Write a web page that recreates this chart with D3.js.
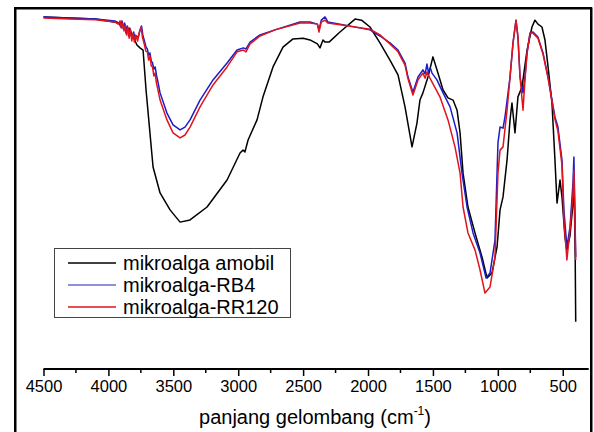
<!DOCTYPE html>
<html>
<head>
<meta charset="utf-8">
<script src="https://cdn.jsdelivr.net/npm/d3@7"></script>
<style>
  body { margin: 0; background: #fff; }
  #chart { position: relative; width: 594px; height: 432px; overflow: hidden; }
  #frame { position: absolute; left: 14px; top: 7px; width: 574px; height: 440px;
           border: 2px solid #000; border-bottom: none; pointer-events: none; }
  svg { display: block; font-family: "Liberation Sans", Arial, sans-serif; }
</style>
</head>
<body>
<div id="chart"><div id="frame"></div></div>
<script>
// FTIR spectra, [wavenumber cm-1, transmittance (arb. %T)]
const amobil = [
  [4500, 97.8], [4300, 97.5], [4100, 97.2], [3911, 96.1], [3834, 94.2], [3780, 90.0],
  [3757, 89.2], [3733, 88.6], [3710, 77.5], [3680, 65.6], [3656, 56.1], [3602, 48.9],
  [3525, 44.2], [3448, 40.8], [3371, 41.4], [3240, 45.0], [3086, 52.5], [2986, 60.0],
  [2963, 60.8], [2948, 60.3], [2924, 63.6], [2855, 69.2], [2809, 75.6], [2732, 83.9],
  [2655, 89.4], [2578, 91.7], [2500, 91.9], [2447, 91.4], [2390, 90.3], [2370, 89.2],
  [2347, 91.4], [2331, 90.8], [2300, 90.8], [2216, 93.6], [2100, 97.2], [2050, 96.9],
  [1985, 95.0], [1908, 90.6], [1831, 85.8], [1769, 81.7], [1715, 72.8], [1661, 61.7],
  [1623, 68.3], [1600, 74.7], [1577, 76.7], [1538, 81.1], [1500, 86.7], [1469, 83.1],
  [1422, 77.5], [1384, 75.3], [1345, 74.7], [1314, 71.9], [1291, 65.6], [1268, 54.4],
  [1230, 45.0], [1176, 37.8], [1122, 31.1], [1083, 25.3], [1045, 26.7], [1006, 33.9],
  [983, 44.2], [960, 47.8], [929, 58.1], [906, 69.2], [891, 73.9], [868, 65.6],
  [845, 75.6], [814, 78.3], [775, 88.6], [737, 95.0], [714, 96.9], [691, 95.8],
  [660, 95.0], [637, 91.4], [613, 83.9], [583, 73.9], [560, 58.1], [544, 46.1],
  [521, 52.5], [506, 47.8], [483, 36.7], [468, 33.1], [444, 37.0], [421, 46.0],
  [412, 50.0], [404, 31.1], [400, 13.1]
];

const rb4 = [
  [4500, 97.8], [4300, 97.5], [4100, 97.2], [3950, 96.7], [3920, 96.1], [3905, 95.0],
  [3895, 96.7], [3885, 94.4], [3875, 96.1], [3865, 93.3], [3855, 95.3], [3845, 92.5],
  [3835, 94.7], [3825, 92.8], [3815, 91.9], [3805, 93.6], [3795, 91.4], [3785, 92.5],
  [3770, 92.2], [3755, 94.2], [3745, 95.3], [3735, 92.8], [3720, 90.8], [3710, 89.4],
  [3700, 88.9], [3690, 87.2], [3680, 87.8], [3670, 85.6], [3660, 85.0], [3650, 83.3],
  [3640, 83.9], [3630, 81.7], [3620, 80.0], [3602, 76.7], [3549, 71.1], [3502, 67.8],
  [3448, 66.4], [3410, 67.2], [3371, 69.2], [3294, 74.7], [3194, 80.3], [3086, 85.0],
  [3009, 88.6], [2960, 89.2], [2940, 88.9], [2909, 90.8], [2832, 92.8], [2717, 94.2],
  [2524, 96.4], [2447, 96.4], [2390, 95.8], [2378, 94.2], [2360, 96.9], [2331, 97.8],
  [2310, 96.4], [2216, 95.8], [1985, 94.2], [1908, 92.5], [1831, 90.6], [1769, 88.6],
  [1715, 85.0], [1692, 81.1], [1654, 76.9], [1615, 81.1], [1577, 83.1], [1560, 82.0],
  [1546, 84.7], [1535, 82.5], [1520, 83.6], [1507, 82.2], [1469, 80.3], [1422, 76.7],
  [1368, 72.8], [1314, 65.6], [1276, 54.4], [1237, 45.0], [1191, 37.8], [1137, 32.2],
  [1091, 25.3], [1060, 26.7], [1022, 35.8], [999, 62.8], [983, 67.2], [960, 66.9],
  [945, 70.0], [906, 81.1], [883, 90.6], [860, 96.9], [845, 92.2], [829, 81.1],
  [806, 76.7], [791, 81.1], [775, 87.8], [752, 93.3], [729, 93.6], [691, 92.2],
  [652, 87.8], [613, 81.1], [583, 74.7], [560, 70.0], [537, 67.2], [506, 58.1],
  [491, 44.2], [468, 33.9], [444, 39.4], [421, 51.7], [414, 58.9], [400, 31.1]
];

const rr120 = [
  [4500, 97.5], [4300, 97.2], [4100, 97.0], [3950, 96.4], [3925, 95.8], [3910, 96.7],
  [3900, 94.7], [3890, 96.1], [3880, 93.9], [3870, 95.6], [3860, 92.8], [3850, 95.0],
  [3840, 91.9], [3830, 94.4], [3820, 91.1], [3810, 93.3], [3800, 90.8], [3790, 92.8],
  [3775, 91.1], [3760, 93.9], [3748, 95.0], [3738, 92.2], [3722, 90.0], [3712, 88.3],
  [3700, 88.1], [3690, 85.8], [3680, 86.9], [3670, 84.2], [3660, 83.9], [3650, 81.4],
  [3640, 82.2], [3630, 79.4], [3620, 77.8], [3602, 74.7], [3549, 69.2], [3502, 65.6],
  [3448, 64.2], [3410, 65.0], [3371, 67.2], [3294, 72.8], [3194, 78.9], [3086, 83.9],
  [3009, 88.1], [2960, 88.6], [2940, 88.1], [2909, 90.3], [2832, 92.5], [2717, 94.2],
  [2524, 96.1], [2447, 96.1], [2390, 95.8], [2378, 93.6], [2360, 96.4], [2331, 96.9],
  [2310, 96.1], [2216, 95.6], [1985, 94.4], [1908, 92.8], [1831, 90.3], [1769, 88.1],
  [1715, 84.4], [1692, 80.6], [1654, 76.1], [1615, 80.3], [1577, 82.2], [1560, 80.8],
  [1546, 82.5], [1523, 80.8], [1446, 75.6], [1384, 69.2], [1330, 61.7], [1291, 54.4],
  [1268, 45.0], [1230, 37.8], [1176, 33.1], [1137, 27.5], [1099, 21.1], [1060, 22.8],
  [1022, 31.1], [999, 54.4], [983, 60.8], [960, 61.7], [929, 71.9], [906, 81.1],
  [883, 90.6], [860, 96.9], [845, 92.2], [829, 81.1], [806, 71.9], [791, 80.3],
  [775, 87.8], [752, 93.3], [729, 93.3], [691, 91.9], [652, 87.5], [613, 80.8],
  [583, 74.4], [560, 69.4], [537, 66.1], [506, 56.7], [491, 41.4], [468, 30.3],
  [444, 38.6], [421, 48.6], [414, 55.3], [400, 30.3]
];

const seriesNames = ["mikroalga amobil", "mikroalga-RB4", "mikroalga-RR120"];
const seriesColors = ["#000000", "#1c1cc8", "#e0141c"];
const legendColors = ["#000000", "#6a6ad0", "#e0141c"];
const majorTicks = [4500, 4000, 3500, 3000, 2500, 2000, 1500, 1000, 500];
const minorTicks = [4250, 3750, 3250, 2750, 2250, 1750, 1250, 750];

const width = 594, height = 432;

const svg = d3.select("#chart").append("svg")
    .attr("width", width)
    .attr("height", height);

const x = d3.scaleLinear().domain([4500, 300]).range([43.5, 588.7]);
const y = d3.scaleLinear().domain([0, 100]).range([369, 9]);

const line = d3.line()
    .x(d => x(d[0]))
    .y(d => y(d[1]));

const g = svg.append("g");
[amobil, rb4, rr120].forEach((data, i) => {
    g.append("path")
        .datum(data)
        .attr("fill", "none")
        .attr("stroke", seriesColors[i])
        .attr("stroke-width", 1.5)
        .attr("stroke-linejoin", "round")
        .attr("d", line);
});

// x axis
const axisY = y(0);
const xAxis = svg.append("g")
    .attr("transform", "translate(0," + axisY + ")")
    .call(d3.axisBottom(x).tickValues(majorTicks).tickSize(7).tickPadding(4).tickFormat(d3.format("d")));
xAxis.select(".domain")
    .attr("stroke-width", 2)
    .attr("d", "M" + x(4500) + ",0H" + x(300));
xAxis.selectAll(".tick line").attr("stroke-width", 1.5);
xAxis.selectAll(".tick text")
    .style("font-family", "'Liberation Sans', Arial, sans-serif")
    .style("font-size", "16.5px")
    .attr("fill", "#000");

svg.append("g")
    .attr("transform", "translate(0," + axisY + ")")
    .selectAll("line")
    .data(minorTicks)
  .enter().append("line")
    .attr("x1", d => x(d)).attr("x2", d => x(d))
    .attr("y1", 0).attr("y2", 4)
    .attr("stroke", "#000")
    .attr("stroke-width", 1.5);

// axis title
const title = svg.append("text")
    .attr("x", 315)
    .attr("y", 424)
    .attr("text-anchor", "middle")
    .style("font-size", "20px")
    .text("panjang gelombang (cm");
title.append("tspan")
    .attr("dy", -9)
    .style("font-size", "12px")
    .text("-1");
title.append("tspan")
    .attr("dy", 9)
    .text(")");

// legend
const legend = svg.append("g");
legend.append("rect")
    .attr("x", 54.5).attr("y", 248.5)
    .attr("width", 236).attr("height", 69)
    .attr("fill", "#fff")
    .attr("stroke", "#444")
    .attr("stroke-width", 1);

seriesNames.forEach((name, i) => {
    const ly = 263 + i * 22;
    legend.append("line")
        .attr("x1", 68).attr("x2", 116)
        .attr("y1", ly).attr("y2", ly)
        .attr("stroke", legendColors[i])
        .attr("stroke-width", 1.5);
    legend.append("text")
        .attr("x", 123)
        .attr("y", ly + 6.5)
        .style("font-size", "20px")
        .text(name);
});

// frame drawn in svg too
svg.append("path")
    .attr("d", "M15.5,432V8.5H591.5V432")
    .attr("fill", "none")
    .attr("stroke", "#000")
    .attr("stroke-width", 2);
</script>
</body>
</html>
